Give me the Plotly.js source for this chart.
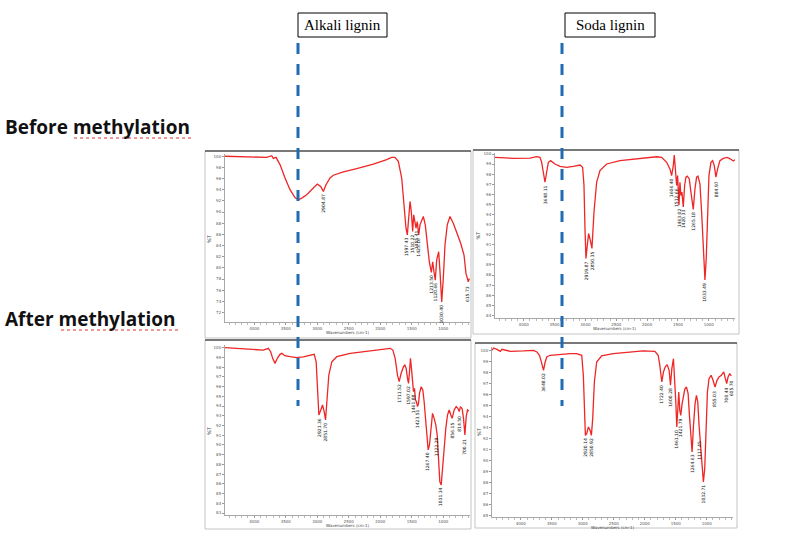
<!DOCTYPE html>
<html>
<head>
<meta charset="utf-8">
<script src="https://cdn.plot.ly/plotly-3.0.1.min.js"></script>
<style>html,body{margin:0;padding:0;background:#fff;}#chart{width:787px;height:554px;}</style>
</head>
<body>
<div id="chart"></div>
<script>
// ---------- DATA ----------
const xTickVals = [4000, 3500, 3000, 2500, 2000, 1500, 1000];
const xTickText = ['4000', '3500', '3000', '2500', '2000', '1500', '1000'];

// Alkali lignin, before methylation
const wnAlkaliBefore = [4465,4068,3803,3723,3698,3655,3592,3512,3433,3354,3301,3247,3168,3063,3000,2946,2904,2862,2798,2746,2587,2374,2111,1898,1819,1767,1714,1660,1624,1592,1571,1549,1528,1508,1486,1470,1449,1433,1413,1390,1370,1343,1317,1286,1254,1222,1190,1168,1148,1127,1105,1073,1052,1025,1000,973,937,894,841,787,724,671,640,603,587];
const tAlkaliBefore = [100.0,99.9,99.8,100.1,99.6,99.8,98.5,96.1,94.0,92.6,92.2,92.5,93.1,94.3,95.0,94.6,93.7,94.9,96.1,96.6,97.2,97.8,98.6,99.4,99.8,99.8,99.1,96.1,91.3,87.1,85.9,88.3,91.9,90.1,86.5,89.5,88.0,87.1,88.3,85.9,87.7,88.6,89.2,87.7,84.1,81.1,79.2,81.1,79.3,77.8,81.4,82.9,79.3,73.9,78.1,84.1,87.7,89.2,88.0,86.4,84.4,82.3,79.0,77.5,78.1];

// Soda lignin, before methylation
const wnSodaBefore = [4465,4168,3898,3790,3736,3709,3682,3655,3628,3601,3563,3493,3412,3304,3196,3088,3045,3023,3007,2991,2969,2948,2915,2894,2861,2818,2764,2656,2440,2170,1954,1846,1765,1684,1630,1603,1576,1560,1538,1522,1506,1484,1468,1452,1436,1414,1392,1371,1349,1317,1290,1252,1225,1198,1176,1144,1117,1090,1063,1042,1020,998,966,939,912,885,858,820,766,701,647,604,577];
const tSodaBefore = [99.67,99.57,99.60,99.73,99.67,99.18,98.19,97.20,98.19,99.18,99.34,99.01,98.78,98.68,98.78,98.91,98.68,96.88,92.61,89.65,90.97,92.12,91.29,90.64,94.25,97.20,98.35,99.01,99.34,99.50,99.67,99.73,99.67,99.18,98.52,97.86,98.85,99.90,98.19,96.88,97.86,94.91,97.20,95.89,96.22,94.74,96.88,97.70,97.80,97.53,96.22,94.51,96.55,97.70,97.80,97.04,94.25,90.31,87.52,89.65,94.25,97.86,99.18,99.34,98.85,97.70,98.52,99.34,99.57,99.67,99.50,99.31,99.44];

// Alkali lignin, after methylation
const wnAlkaliAfter = [4465,4333,4068,3857,3777,3740,3708,3671,3634,3592,3566,3513,3433,3328,3222,3116,3049,3018,2996,2975,2944,2917,2891,2869,2848,2817,2769,2690,2478,2214,2002,1843,1801,1764,1727,1700,1669,1632,1610,1589,1568,1552,1536,1521,1505,1489,1473,1457,1441,1425,1409,1393,1378,1351,1325,1304,1282,1261,1240,1219,1192,1171,1145,1119,1097,1076,1055,1033,1012,986,960,933,907,880,859,827,795,769,748,727,700,679,657,636,616,594];
const tAlkaliAfter = [100.0,99.94,99.87,99.76,99.94,99.59,98.91,98.39,98.91,99.32,99.42,99.18,99.08,98.98,99.05,99.25,99.32,98.56,96.17,93.08,93.60,94.11,93.43,92.57,94.45,97.19,98.56,99.08,99.42,99.66,99.83,99.94,99.76,98.91,97.19,96.51,97.37,98.05,98.22,97.88,96.85,96.34,97.54,98.91,97.88,96.17,95.48,95.82,94.62,94.45,93.94,94.28,95.31,95.99,95.65,94.45,92.40,90.34,89.49,90.00,92.40,93.25,92.74,92.06,91.03,88.29,86.23,85.89,87.60,90.00,91.71,93.08,93.60,93.08,92.74,93.60,93.94,93.77,93.43,93.94,93.70,92.74,91.03,92.91,93.60,93.50];

// Soda lignin, after methylation
const wnSodaAfter = [4465,4439,4385,4331,4305,4171,3956,3795,3741,3699,3661,3634,3607,3581,3527,3420,3312,3205,3098,3017,2991,2975,2958,2937,2910,2883,2861,2840,2813,2776,2696,2508,2240,2025,1837,1783,1757,1725,1698,1671,1639,1607,1585,1563,1537,1520,1499,1483,1467,1451,1435,1419,1397,1376,1354,1327,1300,1279,1258,1236,1214,1188,1166,1145,1123,1107,1091,1070,1054,1032,1011,989,963,930,898,866,834,801,764,726,699,678,656,629,603];
const tSodaAfter = [100.0,100.21,100.09,99.91,100.09,99.91,99.94,100.0,99.85,99.55,98.79,98.19,98.94,99.40,99.55,99.61,99.64,99.70,99.70,99.55,97.73,94.71,92.29,92.44,93.05,92.75,92.29,93.81,97.13,98.94,99.49,99.70,99.85,99.94,99.91,99.55,98.64,97.13,98.04,98.49,98.70,98.19,96.83,98.34,99.24,97.73,95.32,93.05,95.32,96.22,94.56,94.10,95.16,95.92,96.46,96.68,96.07,94.10,91.99,90.78,93.14,95.16,95.92,95.35,93.14,91.99,90.78,88.67,88.06,89.29,93.44,96.22,97.43,97.73,97.28,96.68,97.28,97.58,97.73,98.04,97.43,96.98,97.58,97.89,97.67];

// Peak labels (wavenumber positions and printed text)
const peaksAlkaliBefore = [2904,1571,1486,1433,1390,1190,1127,1025,603];
const peakTextAlkaliBefore = ['2904.87','1597.43','1510.22','1455.41','1423.16','1213.50','1120.66','1030.40','615.73'];
const peaksSodaBefore = [3655,2991,2894,1603,1522,1484,1414,1252,1063,885];
const peakTextSodaBefore = ['3648.11','2919.87','2850.35','1606.40','1512.66','1463.02','1420.33','1265.18','1033.49','884.97'];
const peaksAlkaliAfter = [2975,2869,1700,1552,1473,1409,1240,1097,1033,859,748,657];
const peakTextAlkaliAfter = ['2921.36','2851.70','1711.52','1597.02','1461.88','1423.51','1267.40','1122.29','1031.34','856.15','814.50','700.21'];
const peaksSodaAfter = [3634,2958,2861,1725,1585,1483,1419,1236,1107,1054,866,678,603];
const peakTextSodaAfter = ['3648.02','2920.14','2850.92','1722.40','1600.28','1461.10','1421.79','1264.63','1117.45','1032.71','855.03','700.44','605.70'];

const sampleTitles = ['Alkali lignin', 'Soda lignin'];
const rowTitles = ['Before methylation', 'After methylation'];

// ---------- LAYOUT HELPERS ----------
const W = 787, H = 554;
const px = v => v / W;
const py = v => 1 - v / H;
const XR = [4465, 576];
const RED = 'rgb(238,38,38)';

function xAxis(l, r, anchor) {
  return {
    domain: [px(l), px(r)], range: XR, anchor: anchor,
    tickvals: xTickVals, ticktext: xTickText,
    ticks: 'outside', ticklen: 2, tickcolor: '#999', tickwidth: 1,
    minor: {ticks: 'outside', ticklen: 1.5, dtick: 100, tickcolor: '#bbb'},
    tickfont: {family: 'DejaVu Sans', size: 4, color: '#555'},
    showline: true, linecolor: '#a8a8a8', linewidth: 1,
    showgrid: false, zeroline: false, fixedrange: true
  };
}
function yAxis(top, bottom, range, dtick, anchor) {
  return {
    domain: [py(bottom), py(top)], range: range, anchor: anchor,
    tick0: 100, dtick: dtick,
    ticks: 'outside', ticklen: 2, tickcolor: '#999',
    tickfont: {family: 'DejaVu Sans', size: 4, color: '#555'},
    showline: true, linecolor: '#a8a8a8', linewidth: 1,
    showgrid: false, zeroline: false, fixedrange: true
  };
}

const panels = [
  {wn: wnAlkaliBefore, t: tAlkaliBefore, pk: peaksAlkaliBefore, pt: peakTextAlkaliBefore, xa: 'x', ya: 'y',
   box: [225, 470, 154, 322], yr: [70.3, 100.4], dt: 2, frame: [205, 151, 471, 338]},
  {wn: wnSodaBefore, t: tSodaBefore, pk: peaksSodaBefore, pt: peakTextSodaBefore, xa: 'x2', ya: 'y2',
   box: [495, 735, 153, 318], yr: [83.74, 100.1], dt: 1, frame: [473, 150, 739, 334]},
  {wn: wnAlkaliAfter, t: tAlkaliAfter, pk: peaksAlkaliAfter, pt: peakTextAlkaliAfter, xa: 'x3', ya: 'y3',
   box: [225, 470, 345, 515], yr: [82.8, 100.28], dt: 1, frame: [205, 340, 471, 529]},
  {wn: wnSodaAfter, t: tSodaAfter, pk: peaksSodaAfter, pt: peakTextSodaAfter, xa: 'x4', ya: 'y4',
   box: [492, 733, 347, 517], yr: [84.89, 100.3], dt: 1, frame: [475, 343, 737, 528]}
];

const traces = [];
const layout = {
  width: W, height: H, margin: {l: 0, r: 0, t: 0, b: 0},
  paper_bgcolor: '#fff', plot_bgcolor: '#fff', showlegend: false,
  shapes: [], annotations: []
};

panels.forEach((p, i) => {
  const sfx = i === 0 ? '' : String(i + 1);
  layout['xaxis' + sfx] = xAxis(p.box[0], p.box[1], p.ya);
  layout['yaxis' + sfx] = yAxis(p.box[2], p.box[3], p.yr, p.dt, p.xa);
  traces.push({x: p.wn, y: p.t, xaxis: p.xa, yaxis: p.ya, type: 'scatter', mode: 'lines',
    line: {color: RED, width: 1.3}, hoverinfo: 'skip'});
  // outer panel frame
  const f = p.frame;
  layout.shapes.push({type: 'rect', xref: 'paper', yref: 'paper', x0: px(f[0]), x1: px(f[2]), y0: py(f[3]), y1: py(f[1]),
    line: {color: '#c4c4c4', width: 1}, layer: 'below'});
  layout.shapes.push({type: 'line', xref: 'paper', yref: 'paper', x0: px(f[0]), x1: px(f[2]), y0: py(f[1]), y1: py(f[1]),
    line: {color: '#555', width: 1.5}});
  // axis titles
  const cx = (p.box[0] + p.box[1]) / 2;
  layout.annotations.push({xref: 'paper', yref: 'paper', x: px(cx), y: py(p.box[3] + 10), text: 'Wavenumbers (cm-1)',
    showarrow: false, font: {family: 'DejaVu Sans', size: 4, color: '#444'}, xanchor: 'center', yanchor: 'middle'});
  layout.annotations.push({xref: 'paper', yref: 'paper', x: px(f[0] + 4), y: py((p.box[2] + p.box[3]) / 2), text: '%T',
    showarrow: false, textangle: -90, font: {family: 'DejaVu Sans', size: 5, color: '#444'}, xanchor: 'center', yanchor: 'middle'});
  // peak labels
  p.pk.forEach((w, k) => {
    const idx = p.wn.indexOf(w);
    const yv = p.t[idx];
    layout.annotations.push({xref: p.xa, yref: p.ya, x: w, y: yv, text: p.pt[k], showarrow: false,
      textangle: -90, font: {family: 'DejaVu Sans', size: 4.5, color: '#111'},
      xanchor: 'center', yanchor: 'middle', yshift: -12});
  });
});

// blue dashed marker lines
[298, 562].forEach(x => {
  layout.shapes.push({type: 'line', xref: 'paper', yref: 'paper', x0: px(x), x1: px(x), y0: py(43), y1: py(406),
    line: {color: '#1f6cb3', width: 3, dash: '11px,10px'}});
});

// sample title boxes
const titleBoxes = [[298, 387], [565, 655]];
titleBoxes.forEach((b, i) => {
  layout.shapes.push({type: 'rect', xref: 'paper', yref: 'paper', x0: px(b[0]), x1: px(b[1]), y0: py(37), y1: py(13),
    line: {color: '#000', width: 1}, fillcolor: '#fff'});
  layout.annotations.push({xref: 'paper', yref: 'paper', x: px((b[0] + b[1]) / 2), y: py(25), text: sampleTitles[i],
    showarrow: false, font: {family: 'Liberation Serif', size: 15, color: '#000'}, xanchor: 'center', yanchor: 'middle'});
});

// row titles
const rowY = [127, 319];
const underline = [[74, 193, 138], [61, 179, 330]];
rowTitles.forEach((t, i) => {
  layout.annotations.push({xref: 'paper', yref: 'paper', x: px(3), y: py(rowY[i]), text: '<b>' + t + '</b>',
    showarrow: false, font: {family: 'Open Sans', size: 19, color: '#111'}, xanchor: 'left', yanchor: 'middle'});
  const u = underline[i];
  layout.shapes.push({type: 'line', xref: 'paper', yref: 'paper', x0: px(u[0]), x1: px(u[1]), y0: py(u[2]), y1: py(u[2]),
    line: {color: '#e03030', width: 1, dash: 'dot'}});
});

Plotly.newPlot('chart', traces, layout, {displayModeBar: false, staticPlot: true});
</script>
</body>
</html>
